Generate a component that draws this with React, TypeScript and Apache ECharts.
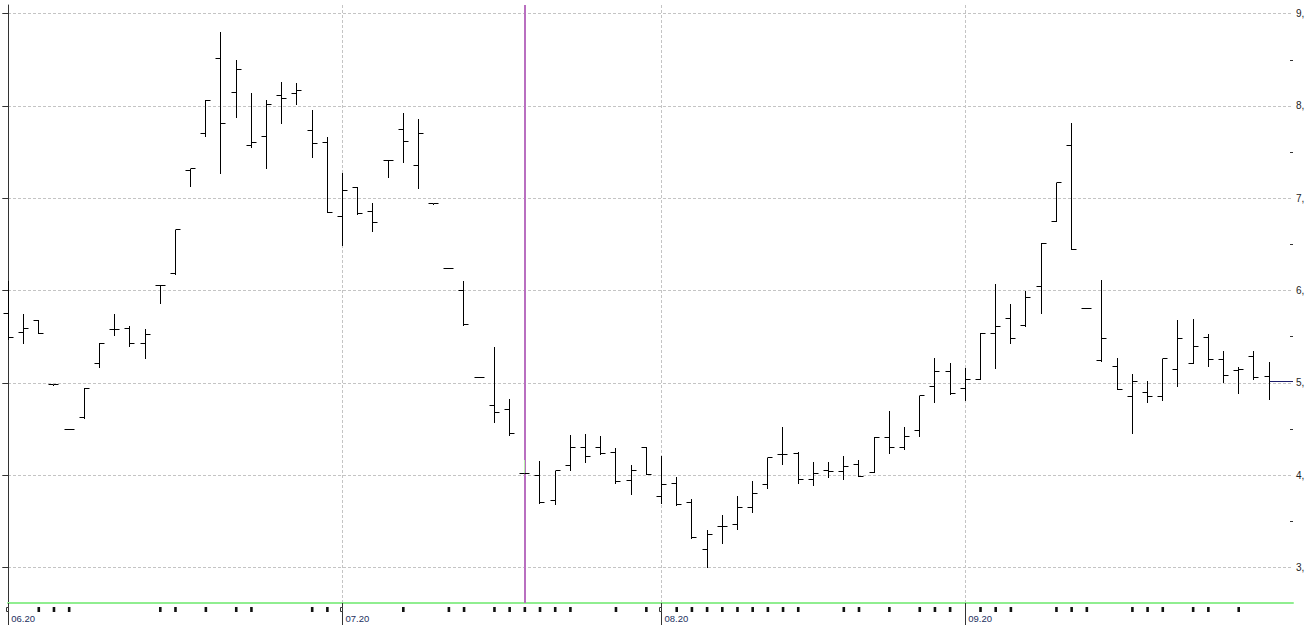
import React, { useEffect, useRef } from "react";
import * as echarts from "echarts";

// OHLC daily bars (index 0 = first bar of 06.20)
const OPEN = [
  5.75, 5.55, 5.68, 4.98, 4.5, 4.62, 5.21, 5.58, 5.59, 5.43,
  6.06, 6.18, 7.3, 7.7, 8.51, 8.15, 7.57, 7.67, 8.11, 8.13,
  7.73, 7.6, 6.8, 7.12, 6.86, 7.41, 7.75, 7.36, 6.94, 6.24,
  6.0, 5.06, 4.75, 4.71, 4.02, 4.0, 3.73, 4.11, 4.3, 4.3,
  4.25, 3.94, 4.3, 3.77, 3.91, 3.7, 3.19, 3.44, 3.47, 3.65,
  3.9, 4.22, 4.24, 3.95, 4.05, 4.04, 4.12, 4.03, 4.41, 4.3,
  4.48, 4.96, 5.12, 4.94, 5.04, 5.53, 5.7, 5.62, 6.04, 6.75,
  7.57, 5.81, 5.24, 5.18, 4.85, 4.9, 4.85, 5.14, 5.21, 5.49,
  5.25, 5.13, 5.29, 5.07,
];
const HIGH = [
  6.1, 5.75, 5.68, 4.98, 4.5, 4.94, 5.43, 5.75, 5.62, 5.58,
  6.06, 6.66, 7.32, 8.06, 8.8, 8.5, 8.14, 8.06, 8.26, 8.25,
  7.96, 7.66, 7.27, 7.12, 6.95, 7.41, 7.92, 7.86, 6.94, 6.24,
  6.1, 5.06, 5.39, 4.83, 4.16, 4.15, 4.05, 4.44, 4.45, 4.42,
  4.29, 4.11, 4.3, 4.21, 3.98, 3.74, 3.41, 3.57, 3.77, 3.94,
  4.19, 4.52, 4.25, 4.14, 4.14, 4.21, 4.16, 4.41, 4.69, 4.52,
  4.86, 5.27, 5.21, 5.16, 5.54, 6.07, 5.85, 5.99, 6.52, 7.17,
  7.82, 5.81, 6.11, 5.27, 5.1, 5.02, 5.26, 5.68, 5.69, 5.53,
  5.34, 5.17, 5.34, 5.23,
];
const LOW = [
  5.48, 5.43, 5.54, 4.98, 4.5, 4.62, 5.17, 5.52, 5.4, 5.27,
  5.87, 6.18, 7.13, 7.67, 7.27, 7.88, 7.56, 7.33, 7.82, 8.02,
  7.45, 6.85, 6.49, 6.83, 6.65, 7.23, 7.39, 7.11, 6.94, 6.24,
  5.63, 5.06, 4.58, 4.43, 4.02, 3.7, 3.69, 4.06, 4.14, 4.23,
  3.92, 3.8, 4.01, 3.7, 3.68, 3.32, 3.0, 3.27, 3.42, 3.6,
  3.86, 4.12, 3.92, 3.89, 3.98, 3.96, 3.99, 4.03, 4.24, 4.28,
  4.42, 4.79, 4.88, 4.81, 5.04, 5.16, 5.43, 5.62, 5.76, 6.75,
  6.45, 5.81, 5.24, 4.93, 4.46, 4.79, 4.81, 4.97, 5.21, 5.18,
  5.01, 4.89, 5.04, 4.83,
];
const CLOSE = [
  5.49, 5.59, 5.54, 4.98, 4.5, 4.94, 5.43, 5.58, 5.43, 5.52,
  6.06, 6.66, 7.32, 8.06, 7.81, 8.4, 7.6, 8.02, 8.08, 8.17,
  7.59, 6.85, 7.08, 6.83, 6.74, 7.41, 7.61, 7.7, 6.94, 6.24,
  5.63, 5.06, 4.68, 4.45, 4.02, 3.7, 4.05, 4.3, 4.2, 4.23,
  3.93, 4.05, 4.01, 3.9, 3.68, 3.32, 3.36, 3.44, 3.65, 3.8,
  4.19, 4.22, 3.95, 4.02, 4.04, 4.09, 3.99, 4.41, 4.3, 4.42,
  4.86, 5.12, 4.89, 5.04, 5.54, 5.61, 5.48, 5.92, 6.51, 7.17,
  6.45, 5.81, 5.48, 4.93, 5.02, 4.85, 5.26, 5.48, 5.39, 5.25,
  5.08, 5.14, 5.06, 5.02,
];

const MONTH_INDEX = [0, 22, 43, 63];
const MONTH_LABELS = ["06.20", "07.20", "08.20", "09.20"];
const MARK_BARS = [
  2, 3, 4, 10, 11, 13, 15, 16, 20, 21, 26, 29, 30, 32, 33, 34, 35, 36, 37, 40,
  42, 44, 45, 46, 47, 48, 49, 50, 51, 52, 55, 56, 58, 60, 61, 62, 64, 65, 66,
  69, 70, 71, 74, 75, 76, 78, 79, 81,
];
const MONTH_MARK_BARS = [0, 22, 43];
const PRICE_TICKS = [3, 4, 5, 6, 7, 8, 9];
const HALF_TICKS = [3.5, 4.5, 5.5, 6.5, 7.5, 8.5];
const SEPARATOR_BAR = 34;

const X_MIN = -0.02;
const X_MAX = 84.58;
const Y_MIN = 2.615;
const Y_MAX = 9.094;

export default function App() {
  const ref = useRef<HTMLDivElement>(null);

  useEffect(() => {
    if (!ref.current) return;
    const chart = echarts.init(ref.current, null, { renderer: "svg" });

    const ohlc = OPEN.map((o, i) => [i, o, HIGH[i], LOW[i], CLOSE[i]]);
    const last = CLOSE.length - 1;

    const option: any = {
      animation: false,
      backgroundColor: "#ffffff",
      grid: { left: 8, right: 16, top: 5, bottom: 27, containLabel: false, outerBoundsMode: "none" },
      xAxis: {
        type: "value",
        min: X_MIN,
        max: X_MAX,
        axisLine: { show: true, onZero: false, lineStyle: { color: "#90ee90", width: 2 } },
        axisTick: { show: true, customValues: MONTH_INDEX, length: 22, lineStyle: { color: "#333", width: 1 } },
        axisLabel: {
          show: true,
          customValues: MONTH_INDEX,
          formatter: (v: number) => MONTH_LABELS[MONTH_INDEX.indexOf(Math.round(v))] || "",
          align: "left",
          padding: [0, 0, 0, 3],
          margin: 10,
          color: "#243060",
          fontSize: 9.5,
          fontFamily: "Liberation Sans",
        },
        splitLine: { show: true, lineStyle: { color: "#c4c4c4", type: [3, 2], width: 1 } },
      },
      yAxis: [
        {
          type: "value",
          position: "right",
          min: Y_MIN,
          max: Y_MAX,
          axisLine: { show: true, lineStyle: { color: "#333", width: 1 } },
          axisTick: { show: true, inside: true, customValues: PRICE_TICKS, length: 6, lineStyle: { color: "#333" } },
          axisLabel: {
            show: true,
            customValues: PRICE_TICKS,
            formatter: (v: number) => `${v},`,
            margin: 3,
            color: "#222",
            fontSize: 10,
            fontFamily: "Liberation Sans",
          },
          splitLine: { show: true, lineStyle: { color: "#c4c4c4", type: [3, 2], width: 1 } },
        },
        {
          type: "value",
          position: "right",
          min: Y_MIN,
          max: Y_MAX,
          axisLine: { show: false },
          axisTick: { show: true, inside: true, customValues: HALF_TICKS, length: 3, lineStyle: { color: "#333" } },
          axisLabel: { show: false },
          splitLine: { show: false },
        },
      ],
      series: [
        {
          type: "custom",
          name: "separator",
          z: 1,
          silent: true,
          data: [[SEPARATOR_BAR, Y_MAX]],
          encode: { x: 0, y: 1 },
          renderItem: (_p: any, api: any) => {
            const top = api.coord([api.value(0), Y_MAX]);
            const bot = api.coord([api.value(0), Y_MIN]);
            const x = Math.round(top[0]);
            return {
              type: "line",
              shape: { x1: x, y1: top[1], x2: x, y2: bot[1] },
              style: { stroke: "#b96fc0", lineWidth: 2 },
            };
          },
        },
        {
          type: "custom",
          name: "marks",
          z: 3,
          silent: true,
          data: MARK_BARS.map((i) => [i, Y_MIN]),
          encode: { x: 0, y: 1 },
          renderItem: (_p: any, api: any) => {
            const p = api.coord([api.value(0), Y_MIN]);
            return {
              type: "rect",
              shape: { x: p[0] - 1.2, y: p[1] + 4, width: 2.6, height: 5 },
              style: { fill: "#111" },
            };
          },
        },
        {
          type: "custom",
          name: "monthMarks",
          z: 4,
          silent: true,
          data: MONTH_MARK_BARS.map((i) => [i, Y_MIN]),
          encode: { x: 0, y: 1 },
          renderItem: (_p: any, api: any) => {
            const p = api.coord([api.value(0), Y_MIN]);
            const x = Math.round(p[0]);
            return {
              type: "rect",
              shape: { x: x - 1.5, y: p[1] + 4.5, width: 2, height: 4 },
              style: { fill: "#fff", stroke: "#333", lineWidth: 1 },
            };
          },
        },
        {
          type: "custom",
          name: "ohlc",
          z: 10,
          silent: true,
          data: ohlc,
          encode: { x: 0, y: [1, 2, 3, 4] },
          renderItem: (_p: any, api: any) => {
            const i = api.value(0);
            const o = api.coord([i, api.value(1)]);
            const h = api.coord([i, api.value(2)]);
            const l = api.coord([i, api.value(3)]);
            const c = api.coord([i, api.value(4)]);
            const x = Math.round(o[0] - 0.5) + 0.5;
            const sy = (y: number) => Math.round(y - 0.5) + 0.5;
            const vColor = i === SEPARATOR_BAR ? "#b5f0a8" : "#000";
            return {
              type: "group",
              children: [
                {
                  type: "line",
                  shape: { x1: x, y1: Math.round(h[1]), x2: x, y2: Math.round(l[1]) + 1 },
                  style: { stroke: vColor, lineWidth: 1 },
                },
                {
                  type: "line",
                  shape: { x1: x - 5, y1: sy(o[1]), x2: x, y2: sy(o[1]) },
                  style: { stroke: "#000", lineWidth: 1 },
                },
                {
                  type: "line",
                  shape: { x1: x, y1: sy(c[1]), x2: x + 5, y2: sy(c[1]) },
                  style: { stroke: "#000", lineWidth: 1 },
                },
              ],
            };
          },
        },
        {
          type: "custom",
          name: "priceLine",
          z: 11,
          silent: true,
          data: [[last, CLOSE[last]]],
          encode: { x: 0, y: 1 },
          renderItem: (_p: any, api: any) => {
            const a = api.coord([api.value(0), api.value(1)]);
            const b = api.coord([X_MAX, api.value(1)]);
            const y = Math.round(a[1] - 0.5) + 0.5;
            return {
              type: "line",
              shape: { x1: a[0] + 1, y1: y, x2: b[0], y2: y },
              style: { stroke: "#1b1b6b", lineWidth: 1 },
            };
          },
        },
      ],
    };

    chart.setOption(option);
    return () => chart.dispose();
  }, []);

  return (
    <div
      ref={ref}
      style={{ position: "absolute", left: 0, top: 0, width: 1309, height: 630, background: "#fff" }}
    />
  );
}
